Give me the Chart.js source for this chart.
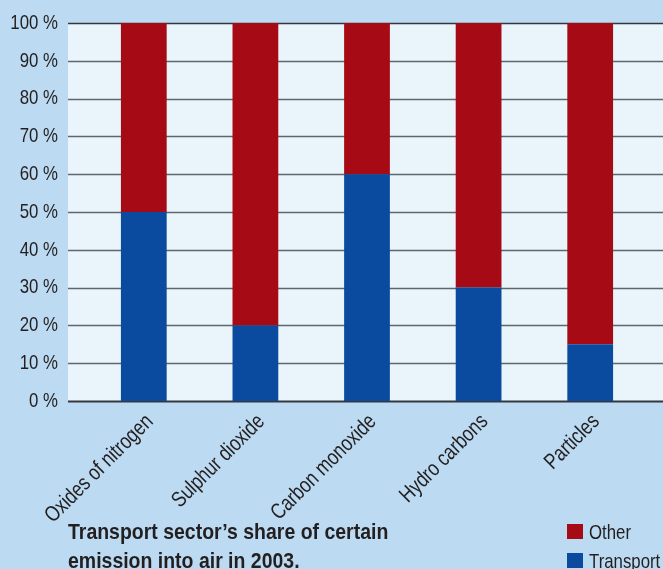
<!DOCTYPE html>
<html>
<head>
<meta charset="utf-8">
<script src="https://cdn.jsdelivr.net/npm/chart.js@4/dist/chart.umd.min.js"></script>
<style>
    html, body { margin: 0; padding: 0; background: #bcdbf2; }
    #wrap { position: relative; width: 663px; height: 569px; overflow: hidden; }
    canvas { position: absolute; left: 0; top: 0; }
    .font { font-family: "Liberation Sans", Arial, sans-serif; color: #231f20; }
    #title { position: absolute; left: 68px; top: 517px; font-size: 22px; font-weight: bold; line-height: 29px;
             white-space: nowrap; transform: scaleX(0.885); transform-origin: left top; }
    #legend { position: absolute; left: 567px; top: 517px; font-size: 21px; line-height: 29px; }
    #legend div { white-space: nowrap; }
    #legend span.box { display: inline-block; width: 16px; height: 15px; margin-right: 6px; }
    #legend span.txt { display: inline-block; transform: scaleX(0.8); transform-origin: left center; }
</style>
</head>
<body>
<div id="wrap">
    <canvas id="chart" width="663" height="569"></canvas>
    <div id="title" class="font">Transport sector’s share of certain<br>emission into air in 2003.</div>
    <div id="legend" class="font"></div>
</div>
<script>
const categories = ['Oxides of nitrogen', 'Sulphur dioxide', 'Carbon monoxide', 'Hydro carbons', 'Particles'];
const transport = [50, 20, 60, 30, 15];
const other = [50, 80, 40, 70, 85];
const yTicks = [0, 10, 20, 30, 40, 50, 60, 70, 80, 90, 100];

const FONT = '"Liberation Sans", Arial, sans-serif';
const SQUEEZE = 0.8; // no condensed face installed, so squeeze the canvas text

const ctx = document.getElementById('chart').getContext('2d');
const baseFill = CanvasRenderingContext2D.prototype.fillText;
ctx.fillText = function (text, x, y, maxWidth) {
    this.save();
    this.translate(x, y);
    this.scale(SQUEEZE, 1);
    if (maxWidth === undefined) baseFill.call(this, text, 0, 0);
    else baseFill.call(this, text, 0, 0, maxWidth / SQUEEZE);
    this.restore();
};

// plot background and grid lines run wider than the category band
const plotBackground = {
    id: 'plotBackground',
    beforeDatasetsDraw(chart) {
        const c = chart.ctx;
        const y = chart.scales.y;
        const top = y.getPixelForValue(100);
        const bottom = y.getPixelForValue(0);
        c.save();
        c.fillStyle = '#e9f4fb';
        c.fillRect(68, top, chart.width - 68, bottom - top);
        yTicks.forEach(v => {
            const py = Math.round(y.getPixelForValue(v)) + 0.5;
            c.strokeStyle = (v === 0 || v === 100) ? '#34373e' : '#62656c';
            c.lineWidth = (v === 0) ? 2 : 1.5;
            c.beginPath();
            c.moveTo(68, py);
            c.lineTo(chart.width, py);
            c.stroke();
        });
        c.restore();
    }
};

const chart = new Chart(ctx, {
    type: 'bar',
    data: {
        labels: categories,
        datasets: [
            { label: 'Transport', data: transport, backgroundColor: '#0b4b9f' },
            { label: 'Other', data: other, backgroundColor: '#a60a14' }
        ]
    },
    options: {
        responsive: false,
        animation: false,
        layout: { padding: { top: 23, right: 17, left: 0, bottom: 0 } },
        datasets: { bar: { categoryPercentage: 1, barPercentage: 0.41 } },
        plugins: { legend: { display: false }, tooltip: { enabled: false } },
        scales: {
            x: {
                stacked: true,
                grid: { display: false },
                border: { display: false },
                afterFit(scale) {
                    scale.height = 168;
                    scale.paddingLeft = 0;
                    scale.paddingRight = 0;
                },
                ticks: {
                    autoSkip: false,
                    maxRotation: 45, minRotation: 45, padding: 0,
                    labelOffset: 6,
                    color: '#231f20',
                    font: { family: FONT, size: 22 }
                }
            },
            y: {
                stacked: true,
                min: 0, max: 100,
                grid: { display: false },
                border: { display: false },
                afterFit(scale) {
                    scale.width = 88;
                    scale.paddingTop = 0;
                    scale.paddingBottom = 0;
                },
                afterBuildTicks(scale) { scale.ticks = yTicks.map(v => ({ value: v })); },
                ticks: {
                    padding: 22,
                    color: '#231f20',
                    font: { family: FONT, size: 21 },
                    callback: v => v + ' %'
                }
            }
        }
    },
    plugins: [plotBackground]
});

// legend, top item is the top of the stack
const legend = document.getElementById('legend');
chart.data.datasets.slice().reverse().forEach(ds => {
    const row = document.createElement('div');
    row.innerHTML = `<span class="box" style="background:${ds.backgroundColor}"></span><span class="txt">${ds.label}</span>`;
    legend.appendChild(row);
});
</script>
</body>
</html>
